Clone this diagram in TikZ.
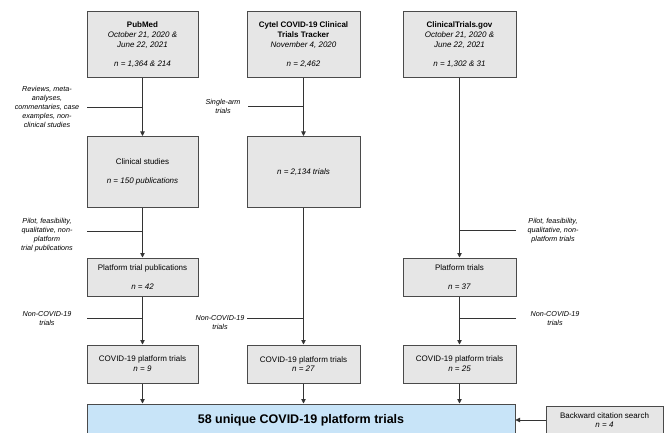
\documentclass[tikz,border=0pt]{standalone}
\usepackage{fontspec}
\setmainfont{Liberation Sans}
\usetikzlibrary{arrows.meta}
\definecolor{boxfill}{HTML}{E6E6E6}
\definecolor{boxline}{HTML}{4A4A4A}
\definecolor{bluefill}{HTML}{C8E4F8}
\definecolor{lineclr}{HTML}{333333}
\tikzset{
  box/.style={draw=boxline, fill=boxfill, line width=1pt, inner sep=0pt, align=center,
    font=\fontsize{8}{9.8}\selectfont},
  side/.style={inner sep=0pt, align=center, font=\fontsize{7.2}{9}\selectfont\itshape},
  arr/.style={draw=lineclr, line width=0.8pt, -{Triangle[length=4.5pt,width=4.5pt]}},
  ln/.style={draw=lineclr, line width=0.8pt},
}
\begin{document}
\begin{tikzpicture}[x=1pt,y=-1pt]
\useasboundingbox (0,0) rectangle (667,433);
% top boxes
\node[box, minimum width=111pt, minimum height=66pt] (pub) at (142.5,45)
  {\textbf{PubMed}\\ \textit{October 21, 2020 \&}\\ \textit{June 22, 2021}\\[9.8pt] \textit{n = 1,364 \& 214}};
\node[box, minimum width=113pt, minimum height=66pt] (cy) at (303.5,45)
  {\textbf{Cytel COVID-19 Clinical}\\ \textbf{Trials Tracker}\\ \textit{November 4, 2020}\\[9.8pt] \textit{n = 2,462}};
\node[box, minimum width=113pt, minimum height=66pt] (ct) at (459.5,45)
  {\textbf{ClinicalTrials.gov}\\ \textit{October 21, 2020 \&}\\ \textit{June 22, 2021}\\[9.8pt] \textit{n = 1,302 \& 31}};
% second row
\node[box, minimum width=111pt, minimum height=71pt] (cs) at (142.5,172)
  {Clinical studies\\[9.8pt] \textit{n = 150 publications}};
\node[box, minimum width=113pt, minimum height=71pt] (cym) at (303.5,172)
  {\textit{n = 2,134 trials}};
% third row
\node[box, minimum width=111pt, minimum height=38pt] (ptp) at (142.5,277)
  {Platform trial publications\\[9.8pt] \textit{n = 42}};
\node[box, minimum width=113pt, minimum height=38pt] (pt) at (459.5,277)
  {Platform trials\\[9.8pt] \textit{n = 37}};
% fourth row
\node[box, minimum width=111pt, minimum height=38pt] (c1) at (142.5,364)
  {COVID-19 platform trials\\ \textit{n = 9}};
\node[box, minimum width=113pt, minimum height=38pt] (c2) at (303.5,364)
  {COVID-19 platform trials\\ \textit{n = 27}};
\node[box, minimum width=113pt, minimum height=38pt] (c3) at (459.5,364)
  {COVID-19 platform trials\\ \textit{n = 25}};
% final
\node[box, fill=bluefill, minimum width=428pt, minimum height=32pt,
  font=\fontsize{12.5}{14}\selectfont\bfseries] (fin) at (301,420)
  {58 unique COVID-19 platform trials};
\node[box, minimum width=117pt, minimum height=28pt] (bw) at (604.5,420)
  {Backward citation search\\ \textit{n = 4}};
% main arrows
\draw[arr] (pub) -- (cs);
\draw[arr] (cs) -- (ptp);
\draw[arr] (ptp) -- (c1);
\draw[arr] (cy) -- (cym);
\draw[arr] (cym) -- (c2);
\draw[arr] (ct) -- (pt);
\draw[arr] (pt) -- (c3);
\draw[arr] (c1) -- (c1 |- fin.north);
\draw[arr] (c2) -- (c2 |- fin.north);
\draw[arr] (c3) -- (c3 |- fin.north);
\draw[arr] (bw) -- (fin);
% side exclusions
\node[side] (e1) at (47,107) {Reviews, meta-\\analyses,\\commentaries, case\\examples, non-\\clinical studies};
\coordinate (e1s) at (87,107);
\draw[ln] (e1s) -- (e1s -| pub);
\node[side] (e2) at (223,106) {Single-arm\\trials};
\coordinate (e2s) at (248,106);
\draw[ln] (e2s) -- (e2s -| cy);
\node[side] (e3) at (47,235) {Pilot, feasibility,\\qualitative, non-\\platform\\trial publications};
\coordinate (e3s) at (87,231);
\draw[ln] (e3s) -- (e3s -| pub);
\node[side] (e4) at (553,231) {Pilot, feasibility,\\qualitative, non-\\platform trials};
\coordinate (e4s) at (516,230);
\draw[ln] (e4s) -- (e4s -| ct);
\node[side] (e5) at (47,319) {Non-COVID-19\\trials};
\coordinate (e5s) at (87,318);
\draw[ln] (e5s) -- (e5s -| pub);
\node[side] (e6) at (220,322.5) {Non-COVID-19\\trials};
\coordinate (e6s) at (247,318);
\draw[ln] (e6s) -- (e6s -| cy);
\node[side] (e7) at (555,319) {Non-COVID-19\\trials};
\coordinate (e7s) at (516,318);
\draw[ln] (e7s) -- (e7s -| ct);
\end{tikzpicture}
\end{document}
